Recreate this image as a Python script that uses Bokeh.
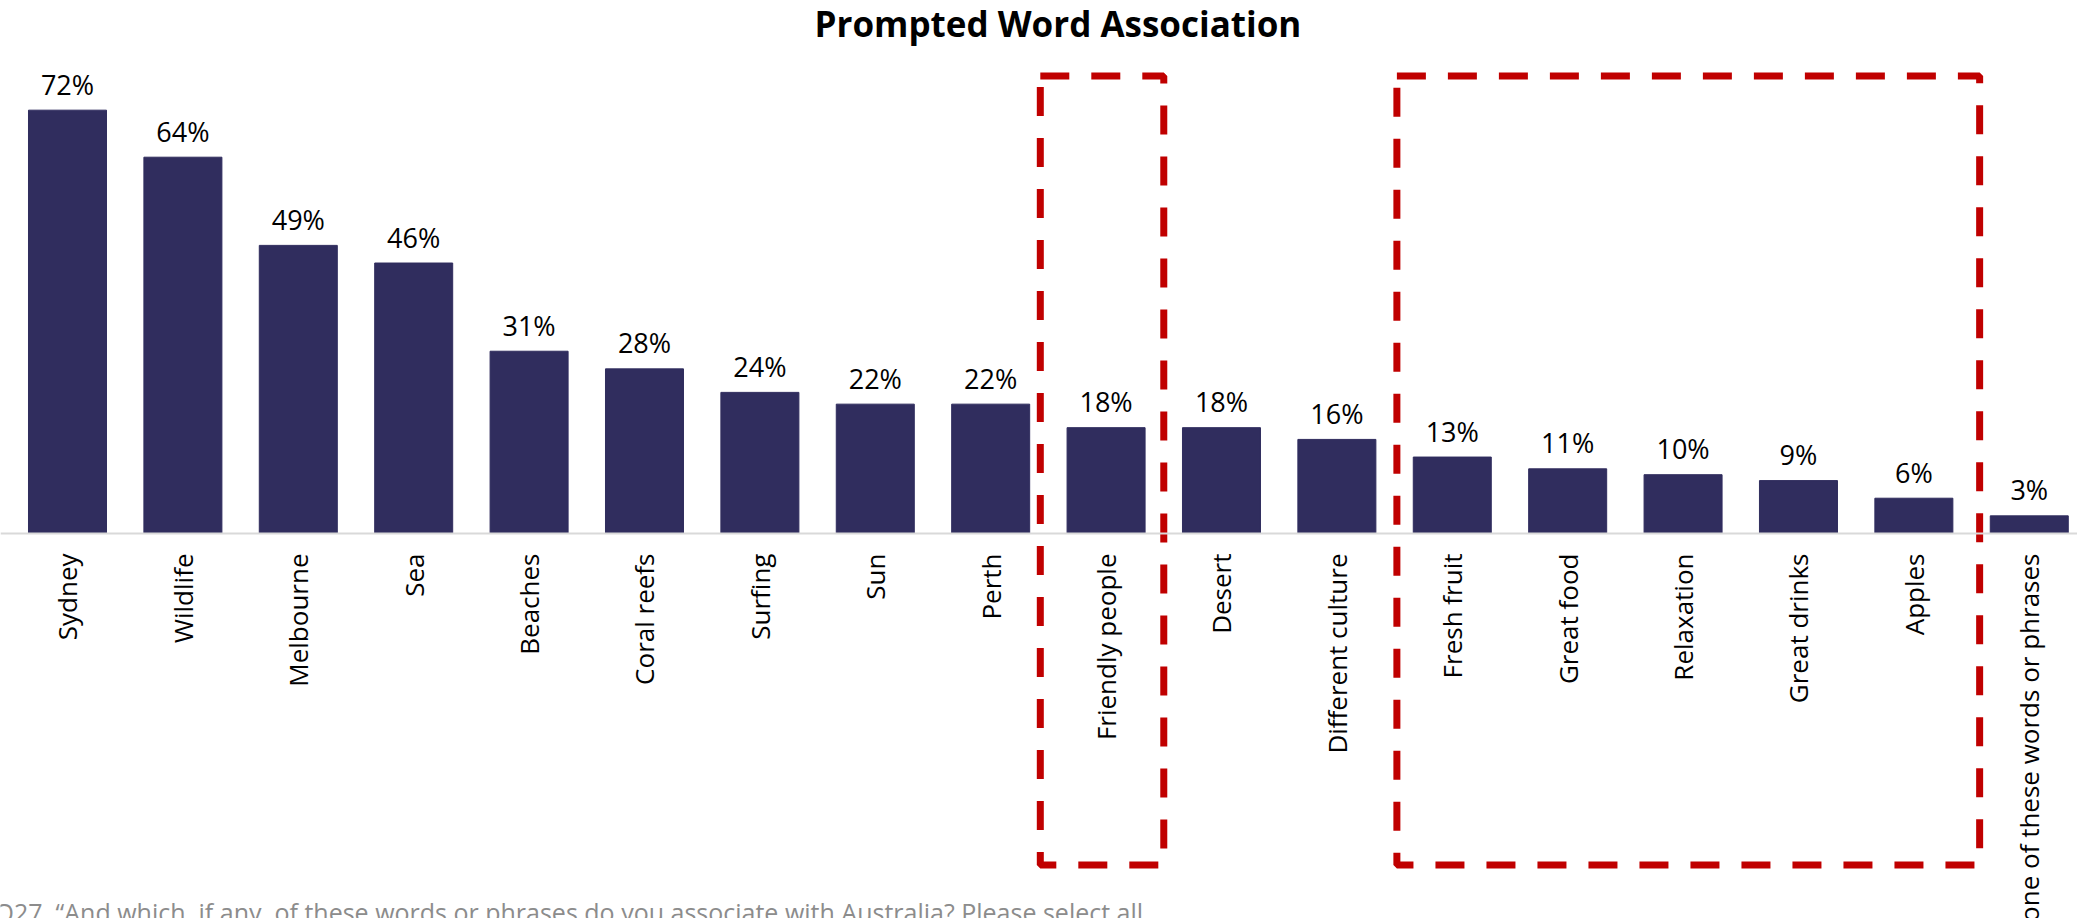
import math
from bokeh.plotting import figure
from bokeh.models import Range1d, FixedTicker, ColumnDataSource, Label
from bokeh.core.properties import value
from bokeh.embed import file_html
from bokeh.resources import INLINE

# ---- data ----
categories = ["Sydney", "Wildlife", "Melbourne", "Sea", "Beaches", "Coral reefs",
              "Surfing", "Sun", "Perth", "Friendly people", "Desert",
              "Different culture", "Fresh fruit", "Great food", "Relaxation",
              "Great drinks", "Apples", "None of these words or phrases"]
values = [72, 64, 49, 46, 31, 28, 24, 22, 22, 18, 18, 16, 13, 11, 10, 9, 6, 3]
value_labels = [f"{v}%" for v in values]
highlight_first = ["Friendly people", "Fresh fruit"]
highlight_last = ["Friendly people", "Apples"]
title_text = "Prompted Word Association"
footnote_text = ("Q27. \u201cAnd which, if any, of these words or phrases do you "
                 "associate with Australia? Please select all")

FONT = "Open Sans"
BAR = "#302D5E"
RED = "#C00000"

idx = list(range(len(categories)))
src = ColumnDataSource(dict(x=idx, top=values, lab=value_labels))

X0, X1 = -0.5806, 17.418
Y0, Y1 = -65.48, 90.65

p = figure(width=2077, height=918, output_backend="svg", toolbar_location=None,
           x_range=Range1d(X0, X1), y_range=Range1d(Y0, Y1),
           y_axis_location=None, min_border=0, outline_line_color=None)
p.grid.visible = False

p.vbar(x="x", top="top", bottom=0, width=0.676, source=src,
       fill_color=BAR, line_color=BAR)
p.text(x="x", y="top", text="lab", source=src, text_align="center",
       text_baseline="alphabetic", y_offset=-26, text_font=value(FONT),
       text_font_size="27px", text_color="#000000")

ax = p.xaxis[0]
ax.fixed_location = 0
ax.ticker = FixedTicker(ticks=idx)
ax.major_label_overrides = {i: c for i, c in zip(idx, categories)}
ax.major_label_orientation = math.pi / 2
ax.major_label_standoff = 14
ax.major_label_text_font = FONT
ax.major_label_text_font_size = "26px"
ax.major_label_text_color = "#000000"
ax.axis_line_color = "#D9D9D9"
ax.axis_line_width = 2
ax.major_tick_line_color = None
ax.minor_tick_line_color = None

# dashed highlight boxes
pads_l = [0.57, 0.48]
pads_r = [0.50, 0.57]
lefts = [categories.index(a) - pl for a, pl in zip(highlight_first, pads_l)]
rights = [categories.index(b) + pr for b, pr in zip(highlight_last, pads_r)]
p.quad(left=lefts, right=rights, bottom=[-56.4] * 2, top=[77.8] * 2,
       fill_alpha=0, line_color=RED, line_width=7, line_dash="29 22")

p.add_layout(Label(x=8.583, y=86.8, text=title_text, text_align="center",
                   text_baseline="middle", text_font=FONT, text_font_size="35px",
                   text_font_style="bold", text_color="#000000"))
p.add_layout(Label(x=X0, y=-64.4, x_offset=-6, text=footnote_text,
                   text_align="left", text_baseline="alphabetic", text_font=FONT,
                   text_font_size="25px", text_color="#8C8C8C"))

open("out.html", "w").write(file_html(p, INLINE))
